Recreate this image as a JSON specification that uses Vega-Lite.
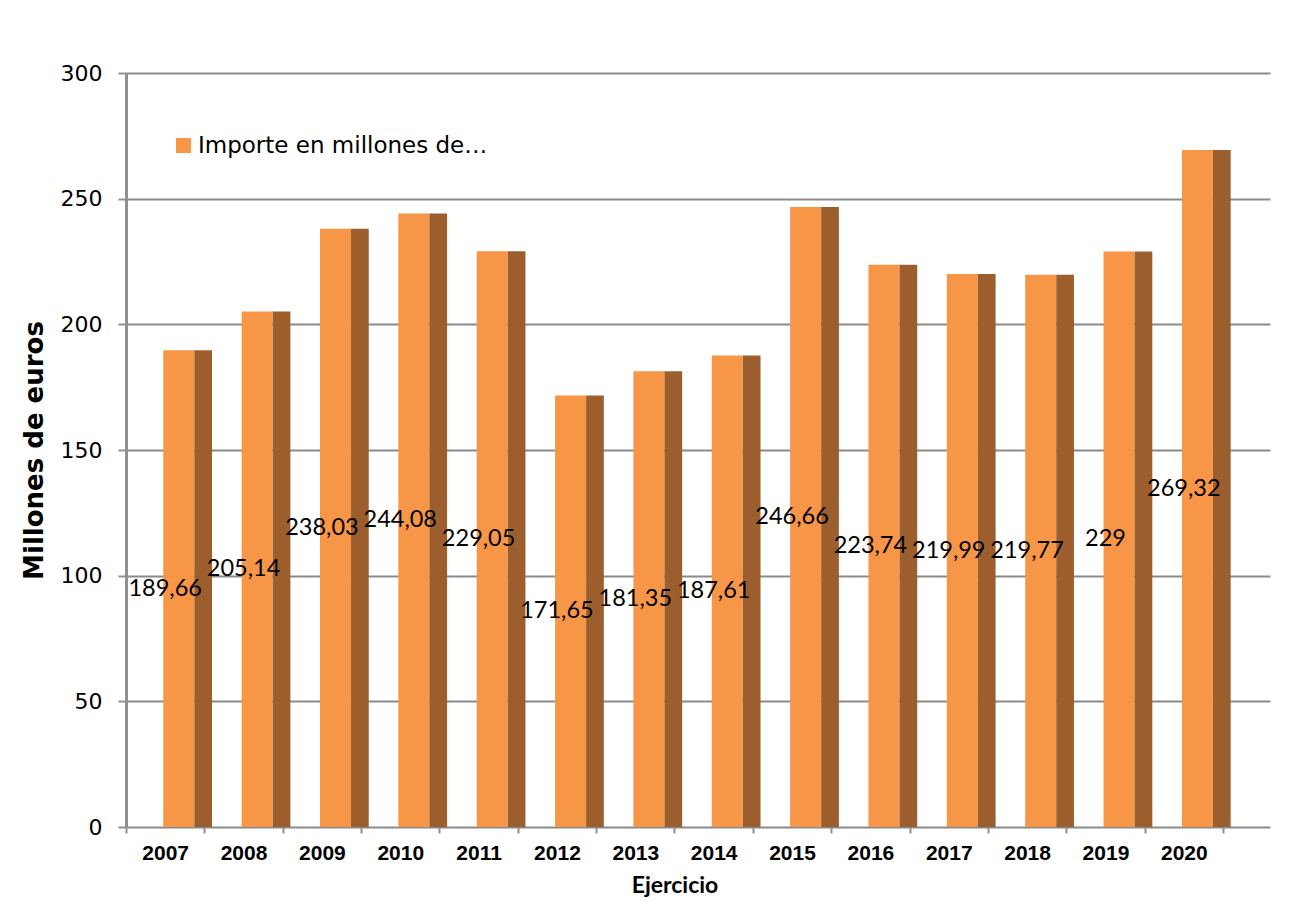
{
  "$schema": "https://vega.github.io/schema/vega-lite/v6.json",
  "autosize": "none",
  "width": 1144,
  "height": 754,
  "padding": {"left": 126, "top": 73, "right": 33, "bottom": 81},
  "background": "white",
  "data": {
    "values": [
      {"year": "2007", "value": 189.66, "label": "189,66"},
      {"year": "2008", "value": 205.14, "label": "205,14"},
      {"year": "2009", "value": 238.03, "label": "238,03"},
      {"year": "2010", "value": 244.08, "label": "244,08"},
      {"year": "2011", "value": 229.05, "label": "229,05"},
      {"year": "2012", "value": 171.65, "label": "171,65"},
      {"year": "2013", "value": 181.35, "label": "181,35"},
      {"year": "2014", "value": 187.61, "label": "187,61"},
      {"year": "2015", "value": 246.66, "label": "246,66"},
      {"year": "2016", "value": 223.74, "label": "223,74"},
      {"year": "2017", "value": 219.99, "label": "219,99"},
      {"year": "2018", "value": 219.77, "label": "219,77"},
      {"year": "2019", "value": 229, "label": "229"},
      {"year": "2020", "value": 269.32, "label": "269,32"}
    ]
  },
  "encoding": {
    "x": {
      "field": "year",
      "type": "ordinal",
      "scale": {"paddingInner": 0, "paddingOuter": 0.3, "align": 0},
      "axis": {
        "title": "Ejercicio",
        "titleFont": "Lato",
        "titleFontSize": 23,
        "titleFontWeight": "bold",
        "titleColor": "black",
        "titlePadding": 11,
        "titleX": 548.5,
        "titleAnchor": null,
        "titleAlign": "center",
        "labelFont": "Liberation Sans",
        "labelFontSize": 21,
        "labelFontWeight": "bold",
        "labelColor": "black",
        "labelAngle": 0,
        "labelPadding": 9,
        "tickBand": "extent",
        "tickSize": 6,
        "tickColor": "#909090",
        "tickWidth": 2,
        "domain": false,
        "grid": false
      }
    },
    "y": {
      "field": "value",
      "type": "quantitative",
      "stack": "zero",
      "scale": {"domain": [0, 300], "nice": false},
      "axis": {
        "title": "Millones de euros",
        "titleFont": "DejaVu Sans",
        "titleFontSize": 26,
        "titleFontWeight": "bold",
        "titleColor": "black",
        "titlePadding": 13,
        "values": [0, 50, 100, 150, 200, 250, 300],
        "labelFont": "DejaVu Sans",
        "labelFontSize": 22,
        "labelColor": "black",
        "labelPadding": 16,
        "tickSize": 8,
        "tickColor": "#909090",
        "tickWidth": 2,
        "domainColor": "#909090",
        "domainWidth": 3,
        "grid": true,
        "gridColor": "#8a8a8a",
        "gridWidth": 2
      }
    }
  },
  "layer": [
    {
      "mark": {"type": "bar", "width": 31, "xOffset": 13.6},
      "encoding": {
        "color": {
          "datum": "Importe en millones de…",
          "type": "nominal",
          "scale": {"range": ["#F79646"]},
          "legend": {
            "title": null,
            "orient": "none",
            "legendX": 46,
            "legendY": 61,
            "padding": 0,
            "symbolType": "square",
            "symbolSize": 225,
            "symbolStrokeWidth": 0,
            "labelFont": "DejaVu Sans",
            "labelFontSize": 23,
            "labelColor": "black",
            "labelOffset": 3,
            "labelLimit": 0
          }
        }
      }
    },
    {
      "mark": {"type": "bar", "width": 17.7, "xOffset": 38, "color": "#9C5E2C"}
    },
    {
      "mark": {"type": "text", "font": "Lato", "fontSize": 23.5, "color": "black", "align": "center", "baseline": "middle"},
      "encoding": {
        "y": {"field": "value", "type": "quantitative", "stack": "zero", "bandPosition": 0.5},
        "text": {"field": "label"}
      }
    }
  ],
  "config": {
    "view": {"stroke": null},
    "axis": {"labelOverlap": false}
  }
}
